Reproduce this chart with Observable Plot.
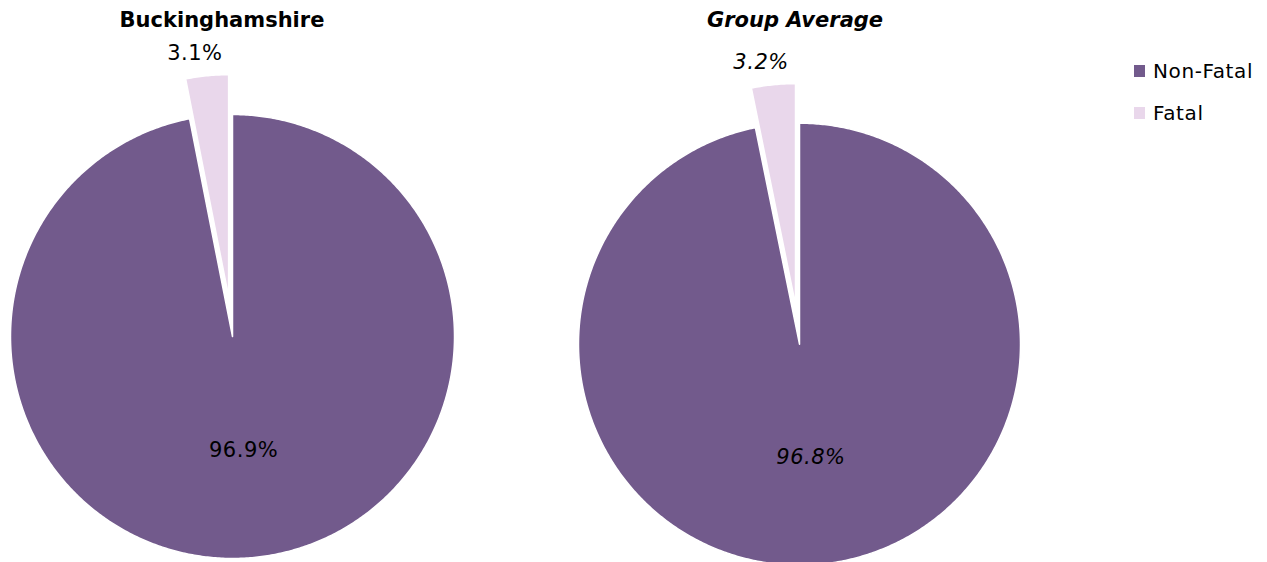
<!DOCTYPE html>
<html>
<head>
<meta charset="utf-8">
<script src="https://cdn.jsdelivr.net/npm/d3@7"></script>
<script src="https://cdn.jsdelivr.net/npm/@observablehq/plot@0.6"></script>
<style>
  body { margin: 0; background: #fff; font-family: "DejaVu Sans", Verdana, sans-serif; }
  #wrap { position: relative; width: 1267px; height: 562px; overflow: hidden; }
  .pie { position: absolute; top: 0; }
  .pie svg text { letter-spacing: 0.5px; }
  .title { position: absolute; top: 8px; font-weight: bold; font-size: 21px; line-height: 24px;
           transform: translateX(-50%); white-space: nowrap; color: #000; }
  .leg { position: absolute; left: 1134px; display: flex; align-items: center; font-size: 20px;
         letter-spacing: 0.6px; color: #000; white-space: nowrap; }
  .leg span.sw { display: inline-block; width: 11px; height: 12px; margin-right: 8px; }
</style>
</head>
<body>
<div id="wrap"></div>
<script>
// ---- data ----
const categories = ["Non-Fatal", "Fatal"];
const buckinghamshireValues = [96.9, 3.1];
const groupAverageValues = [96.8, 3.2];
const chartTitles = ["Buckinghamshire", "Group Average"];
const sliceColors = ["#725A8C", "#E9D7EB"];

// ---- layout ----
const pies = [
  { title: chartTitles[0], values: buckinghamshireValues, cx: 232, cy: 336, R: 222, italic: false, titleShift: -10 },
  { title: chartTitles[1], values: groupAverageValues, cx: 798.5, cy: 343.7, R: 221, italic: true, titleShift: -3.5 }
];
const explode = [0, 0.18];
const halfW = 232, H = 562;
const wrap = document.getElementById("wrap");

function slicePoints(values) {
  const arcs = d3.pie().sort(null).startAngle(0).endAngle(2 * Math.PI)(values);
  const pts = [];
  arcs.forEach((a, i) => {
    const mid = (a.startAngle + a.endAngle) / 2;
    const ox = explode[i] * Math.sin(mid), oy = explode[i] * Math.cos(mid);
    const cat = categories[i];
    pts.push({ cat, x: ox, y: oy });
    const n = Math.max(4, Math.ceil((a.endAngle - a.startAngle) / (Math.PI / 360)));
    for (let k = 0; k <= n; k++) {
      const t = a.startAngle + (a.endAngle - a.startAngle) * k / n;
      pts.push({ cat, x: ox + Math.sin(t), y: oy + Math.cos(t) });
    }
  });
  return { arcs, pts };
}

function labelPoints(arcs, values) {
  return arcs.map((a, i) => {
    const mid = (a.startAngle + a.endAngle) / 2;
    const r = i === 0 ? 0.515 : 1.283;
    return { x: r * Math.sin(mid), y: r * Math.cos(mid), text: values[i].toFixed(1) + "%", dx: i === 0 ? 0 : -10 };
  });
}

pies.forEach(p => {
  const { arcs, pts } = slicePoints(p.values);
  const labels = labelPoints(arcs, p.values);
  const top = p.cy / p.R;
  const chart = Plot.plot({
    width: 2 * halfW,
    height: H,
    margin: 0,
    style: { background: "transparent", overflow: "visible" },
    x: { domain: [-halfW / p.R, halfW / p.R], axis: null },
    y: { domain: [top - H / p.R, top], axis: null },
    color: { domain: categories, range: sliceColors },
    marks: [
      Plot.line(pts, { x: "x", y: "y", z: "cat", fill: "cat", stroke: "white", strokeWidth: 1.5,
                       curve: "linear-closed" }),
      Plot.text(labels, { x: "x", y: "y", text: "text", fontSize: 21,
                          fontFamily: "DejaVu Sans", fontStyle: p.italic ? "italic" : "normal", fill: "#000" })
    ]
  });
  const div = document.createElement("div");
  div.className = "pie";
  div.style.left = (p.cx - halfW) + "px";
  div.appendChild(chart);
  wrap.appendChild(div);
  // per-label horizontal offsets
  const texts = chart.querySelectorAll("text");
  texts.forEach((t, i) => { if (labels[i] && labels[i].dx) t.setAttribute("dx", labels[i].dx); });

  const tt = document.createElement("div");
  tt.className = "title";
  tt.style.left = (p.cx + p.titleShift) + "px";
  if (p.italic) tt.style.fontStyle = "italic";
  tt.textContent = p.title;
  wrap.appendChild(tt);
});

// legend
categories.forEach((c, i) => {
  const d = document.createElement("div");
  d.className = "leg";
  d.style.top = (59 + i * 41.5) + "px";
  d.innerHTML = `<span class="sw" style="background:${sliceColors[i]}"></span><span>${c}</span>`;
  wrap.appendChild(d);
});
</script>
</body>
</html>
